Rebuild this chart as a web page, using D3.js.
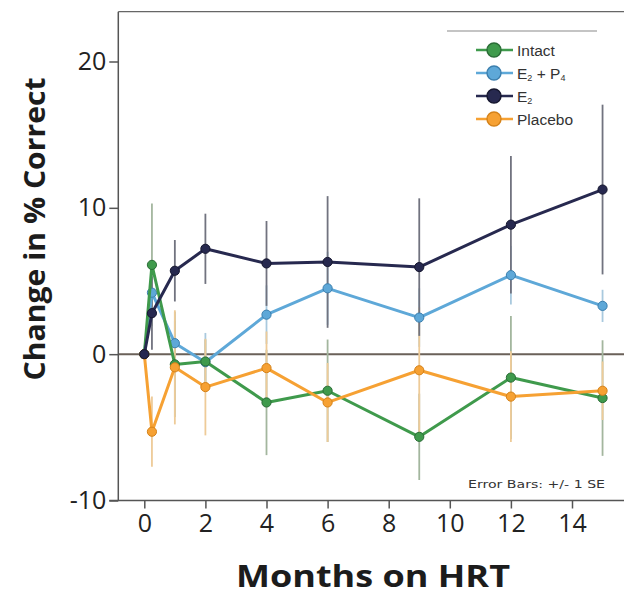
<!DOCTYPE html>
<html>
<head>
<meta charset="utf-8">
<script src="https://cdn.jsdelivr.net/npm/d3@7"></script>
<style>
  html, body { margin: 0; padding: 0; background: #fff; }
  svg { display: block; }
</style>
</head>
<body>
<svg id="chart" width="624" height="595"></svg>
<script>
// Months on hormone replacement therapy at each assessment
const months = [0, 0.25, 1, 2, 4, 6, 9, 12, 15];

// Mean change in % correct, per group
const intact    = [0, 6.1, -0.7, -0.5, -3.3, -2.5, -5.65, -1.6, -3.0];
const e2p4      = [0, 4.2, 0.75, -0.55, 2.7, 4.5, 2.5, 5.4, 3.3];
const e2        = [0, 2.8, 5.7, 7.2, 6.2, 6.3, 5.95, 8.85, 11.25];
const placebo   = [0, -5.3, -0.9, -2.25, -0.95, -3.3, -1.1, -2.9, -2.5];

// Standard errors, per group
const intactSE  = [0, 4.2, 3.6, 1.5, 3.6, 3.5, 2.95, 4.2, 3.95];
const e2p4SE    = [0, 2.0, 1.5, 2.0, 2.0, 2.5, 2.0, 2.0, 1.1];
const e2SE      = [0, 2.5, 2.1, 2.4, 2.9, 4.5, 4.7, 4.7, 5.8];
const placeboSE = [0, 2.4, 3.9, 3.3, 2.5, 2.7, 4.3, 3.1, 2.0];

const xTicks = [0, 2, 4, 6, 8, 10, 12, 14];
const yTicks = [-10, 0, 10, 20];

const series = [
  { name: "E2+P4",   values: e2p4,    se: e2p4SE,    color: "#5ea8d8", edge: "#3c7fae", bar: "#a9c9de" },
  { name: "Intact",  values: intact,  se: intactSE,  color: "#3f9a4c", edge: "#2a6c36", bar: "#a3b69e" },
  { name: "Placebo", values: placebo, se: placeboSE, color: "#f6a133", edge: "#d58219", bar: "#eecb98" },
  { name: "E2",      values: e2,      se: e2SE,      color: "#27294f", edge: "#15162e", bar: "#71737f" }
];

const svg = d3.select("#chart");

const x = d3.scaleLinear().domain([0, 14]).range([144.3, 572]);
const y = d3.scaleLinear().domain([-10, 20]).range([500.5, 61.5]);

const frameLeft = 118.3, frameRight = 624, frameTop = 11.7, frameBottom = 500.5;
const axisColor = "#555";
const textColor = "#222";
const font = "'Open Sans', 'DejaVu Sans', sans-serif";
const plainNumber = d => String(d);

// Frame: top edge and zero reference line
svg.append("line").attr("x1", frameLeft).attr("x2", frameRight).attr("y1", frameTop).attr("y2", frameTop)
  .attr("stroke", "#666").attr("stroke-width", 1.3);
svg.append("line").attr("x1", frameLeft).attr("x2", frameRight).attr("y1", y(0)).attr("y2", y(0))
  .attr("stroke", "#6a6159").attr("stroke-width", 2);

// Y axis
const yAxis = svg.append("g").attr("transform", `translate(${frameLeft},0)`)
  .call(d3.axisLeft(y).tickValues(yTicks).tickSize(9).tickPadding(3).tickFormat(plainNumber));
yAxis.select(".domain").attr("d", `M0,${frameTop}V${frameBottom}`).attr("stroke", axisColor).attr("stroke-width", 1.5);
yAxis.selectAll(".tick line").attr("stroke", axisColor).attr("stroke-width", 1.5);
yAxis.selectAll(".tick text").attr("font-family", font).attr("font-size", 25).attr("fill", textColor);

// X axis along the bottom edge, ticks hanging below it
const xAxis = svg.append("g").attr("transform", `translate(0,${frameBottom})`)
  .call(d3.axisBottom(x).tickValues(xTicks).tickSize(8).tickPadding(6).tickFormat(plainNumber));
xAxis.select(".domain").attr("d", `M${frameLeft - 9},0H${frameRight}`).attr("stroke", axisColor).attr("stroke-width", 1.5);
xAxis.selectAll(".tick line").attr("stroke", axisColor).attr("stroke-width", 1.5);
xAxis.selectAll(".tick text").attr("font-family", font).attr("font-size", 25).attr("fill", textColor);

// Error bars (±1 SE), drawn beneath the lines
const bars = svg.append("g");
series.forEach(s => {
  bars.selectAll(null).data(months.map((m, i) => ({ m, v: s.values[i], e: s.se[i] })).filter(d => d.e > 0))
    .join("line")
    .attr("x1", d => x(d.m)).attr("x2", d => x(d.m))
    .attr("y1", d => y(d.v + d.e)).attr("y2", d => y(d.v - d.e))
    .attr("stroke", s.bar).attr("stroke-width", 1.8);
});

// Lines and markers
const line = d3.line().x((d, i) => x(months[i])).y(d => y(d));
series.forEach(s => {
  svg.append("path").datum(s.values).attr("d", line)
    .attr("fill", "none").attr("stroke", s.color).attr("stroke-width", 3).attr("stroke-linejoin", "round");
  svg.append("g").selectAll("circle").data(s.values).join("circle")
    .attr("cx", (d, i) => x(months[i])).attr("cy", d => y(d)).attr("r", 4.6)
    .attr("fill", s.color).attr("stroke", s.edge).attr("stroke-width", 1);
});

// Axis titles
svg.append("text").attr("x", 373).attr("y", 587).attr("text-anchor", "middle")
  .attr("font-family", font).attr("font-weight", "bold").attr("font-size", 31).attr("fill", "#1c1c1c")
  .attr("textLength", 274).attr("lengthAdjust", "spacingAndGlyphs")
  .text("Months on HRT");
svg.append("text").attr("transform", "translate(45,229) rotate(-90)").attr("text-anchor", "middle")
  .attr("font-family", font).attr("font-weight", "bold").attr("font-size", 29).attr("fill", "#1c1c1c")
  .attr("textLength", 303).attr("lengthAdjust", "spacingAndGlyphs")
  .text("Change in % Correct");

// Legend
const legendFont = "'Liberation Sans', Arial, sans-serif";
svg.append("line").attr("x1", 447).attr("x2", 597).attr("y1", 31).attr("y2", 31)
  .attr("stroke", "#8a8a8a").attr("stroke-width", 1.2);
const legendItems = [
  { s: series[1], label: [["Intact", false]] },
  { s: series[0], label: [["E", false], ["2", true], [" + P", false], ["4", true]] },
  { s: series[3], label: [["E", false], ["2", true]] },
  { s: series[2], label: [["Placebo", false]] }
];
legendItems.forEach((it, i) => {
  const cy = 50 + i * 23;
  const g = svg.append("g");
  g.append("line").attr("x1", 476).attr("x2", 513).attr("y1", cy).attr("y2", cy)
    .attr("stroke", it.s.color).attr("stroke-width", 2.5);
  g.append("circle").attr("cx", 494).attr("cy", cy).attr("r", 7)
    .attr("fill", it.s.color).attr("stroke", it.s.edge).attr("stroke-width", 1.4);
  const t = g.append("text").attr("x", 517).attr("y", cy + 5.5)
    .attr("font-family", legendFont).attr("font-size", 15.5).attr("fill", "#333");
  it.label.forEach(([str, sub], k) => {
    const ts = t.append("tspan").text(str);
    if (sub) ts.attr("font-size", 9).attr("dy", 2);
    else if (k > 0) ts.attr("dy", -2);
  });
});

// Error bar note
svg.append("text").attr("x", 605).attr("y", 488).attr("text-anchor", "end")
  .attr("font-family", "'DejaVu Sans', sans-serif").attr("font-size", 10.5).attr("fill", "#333")
  .attr("textLength", 137).attr("lengthAdjust", "spacingAndGlyphs")
  .text("Error Bars: +/- 1 SE");
</script>
</body>
</html>
